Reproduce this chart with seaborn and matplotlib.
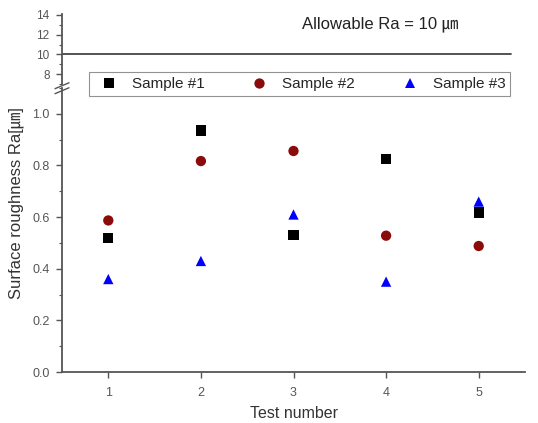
import matplotlib
matplotlib.use("Agg")
import matplotlib.pyplot as plt
import seaborn as sns
import pandas as pd
import numpy as np
from matplotlib.ticker import MultipleLocator

sns.set_style("ticks")
plt.rcParams['font.family'] = ['Liberation Sans', 'Noto Sans CJK KR', 'DejaVu Sans']

tests = [1, 2, 3, 4, 5]
sample1 = [0.52, 0.935, 0.53, 0.826, 0.618]
sample2 = [0.587, 0.817, 0.856, 0.528, 0.488]
sample3 = [0.36, 0.43, 0.61, 0.35, 0.66]
series_names = ["Sample #1", "Sample #2", "Sample #3"]
allowable = 10

df = pd.DataFrame({
    "Test": tests * 3,
    "Ra": sample1 + sample2 + sample3,
    "Sample": [n for n in series_names for _ in tests],
})

fig = plt.figure(figsize=(5.38, 4.23), dpi=100)
L, R = 62 / 538, 525 / 538
ax = fig.add_axes([L, 51 / 423, R - L, (372 - 88) / 423])
axu = fig.add_axes([L, (423 - 84) / 423, R - L, (84 - 14) / 423])

palette = {"Sample #1": "black", "Sample #2": "#8b0a0a", "Sample #3": "#0000ff"}
markers = {"Sample #1": "s", "Sample #2": "o", "Sample #3": "^"}
sns.scatterplot(data=df, x="Test", y="Ra", hue="Sample", style="Sample",
                palette=palette, markers=markers, s=55, linewidth=0, ax=ax)

tick_color = "#555555"
for a in (ax, axu):
    for s in ("top", "right"):
        a.spines[s].set_visible(False)
    a.spines["left"].set_color("#555555")
    a.spines["bottom"].set_color("#555555")
    a.spines["left"].set_linewidth(1.3)
    a.spines["bottom"].set_linewidth(1.3)
    a.tick_params(colors=tick_color, labelcolor="#555555", labelsize=9, direction="out",
                  length=4, width=1, pad=5)
    a.tick_params(which="minor", direction="out", length=2.5, width=0.8, colors=tick_color)
    a.set_xlim(0.5, 5.5)

ax.set_ylim(0, 1.1)
ax.yaxis.set_major_locator(MultipleLocator(0.2))
ax.yaxis.set_minor_locator(MultipleLocator(0.1))
ax.yaxis.set_major_formatter(matplotlib.ticker.FormatStrFormatter("%.1f"))
ax.set_xticks(tests)
ax.tick_params(axis="x", pad=7)
ax.set_xlabel("Test number", fontsize=11.5, color="#333333", labelpad=5)
ax.set_ylabel("Surface roughness Ra[㎛]", fontsize=12, color="#333333")
ax.yaxis.set_label_coords(-0.082, 0.595)
ax.legend_.remove()

axu.set_ylim(7, 14.1)
axu.set_yticks([8, 10, 12, 14])
axu.yaxis.set_minor_locator(MultipleLocator(1))
axu.spines["bottom"].set_visible(False)
axu.set_xticks([])
axu.tick_params(axis="y", labelsize=8.5)
axu.axhline(allowable, xmin=0, xmax=0.97, color="#444444", lw=1.3)
axu.text(0.518, 0.86, "Allowable Ra = 10 ㎛", transform=axu.transAxes, fontsize=12,
         color="#222222", va="center", ha="left")

# break marks
for dy in (0, 5):
    y0 = (423 - 92 + dy) / 423
    fig.add_artist(plt.Line2D([55 / 538, 69 / 538], [y0 - 0.004, y0 + 0.01],
                              color="#555555", lw=1.0, transform=fig.transFigure))

handles, labels = ax.get_legend_handles_labels()
leg = fig.legend(handles, labels, loc="center", bbox_to_anchor=((89 + 510) / 2 / 538, (423 - 84) / 423),
                 ncol=3, frameon=True, fancybox=False, fontsize=11, columnspacing=2.6,
                 handletextpad=0.5, borderpad=0.3, markerscale=1.0)
leg.get_frame().set_edgecolor("#777777")
leg.get_frame().set_linewidth(0.8)

fig.savefig("out.png", dpi=100)
